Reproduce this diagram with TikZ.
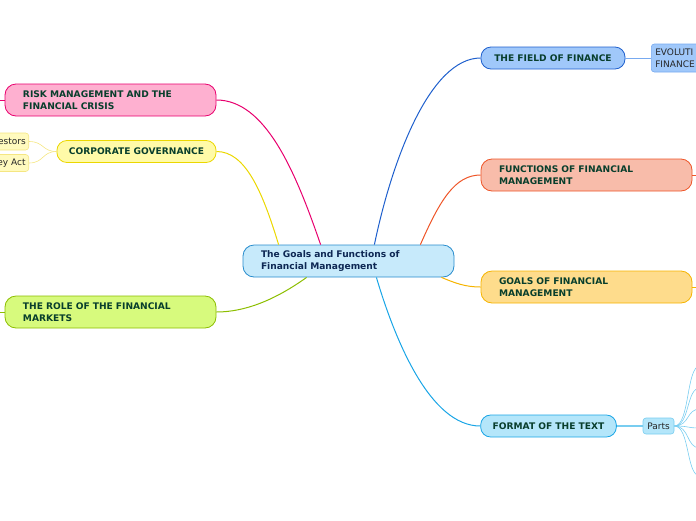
\documentclass[tikz,border=0pt]{standalone}
\usepackage{fontspec}
\setmainfont{DejaVu Sans}
\usepackage{tikz}
\usetikzlibrary{positioning}
\definecolor{centerfill}{RGB}{199,234,251}
\definecolor{centerline}{RGB}{40,140,205}
\definecolor{centertext}{RGB}{14,40,84}
\definecolor{topictext}{RGB}{8,62,44}
\definecolor{fieldfill}{RGB}{160,200,250}
\definecolor{fieldline}{RGB}{30,95,205}
\definecolor{funcfill}{RGB}{248,188,170}
\definecolor{funcline}{RGB}{238,85,40}
\definecolor{goalfill}{RGB}{254,220,140}
\definecolor{goalline}{RGB}{246,180,0}
\definecolor{formatfill}{RGB}{180,230,250}
\definecolor{formatline}{RGB}{25,165,230}
\definecolor{riskfill}{RGB}{254,176,208}
\definecolor{riskline}{RGB}{232,0,110}
\definecolor{corpfill}{RGB}{255,250,168}
\definecolor{corpline}{RGB}{235,215,0}
\definecolor{rolefill}{RGB}{215,250,125}
\definecolor{roleline}{RGB}{140,190,0}
\definecolor{leafyellow}{RGB}{255,250,190}
\definecolor{leafyline}{RGB}{245,230,130}
\definecolor{leafblue}{RGB}{120,205,240}
\definecolor{evolline}{RGB}{120,170,240}
\newcommand\topicfont{\bfseries\fontsize{9.1}{11.5}\selectfont}
\newcommand\leaffont{\fontsize{9}{11.5}\selectfont}

\begin{document}
\begin{tikzpicture}[x=1pt, y=-1pt,
ctr/.style={draw=centerline, fill=centerfill, line width=0.8pt, rounded corners=11pt,
minimum height=32pt, text width=175pt, inner xsep=18pt, align=left,
text=centertext, font=\topicfont},
branch/.style={draw, line width=0.8pt, rounded corners=10pt, minimum height=22pt,
inner xsep=12pt, text=topictext, font=\topicfont},
wide/.style={branch, rounded corners=11pt, minimum height=32pt, text width=175pt,
inner xsep=18pt, align=left},
leaf/.style={draw, line width=0.6pt, rounded corners=3pt, text=black!85, font=\leaffont},
link/.style={line width=1pt}
]
\clip (0,0) rectangle (696,520);

\node[ctr] (root) at (348.5,261) {The Goals and Functions of\\Financial Management};

\node[branch, draw=fieldline, fill=fieldfill, minimum width=144pt] (field) at (553,58)
{THE FIELD OF FINANCE};
\node[wide, draw=funcline, fill=funcfill] (func) at (586.5,175)
{FUNCTIONS OF FINANCIAL\\MANAGEMENT};
\node[wide, draw=goalline, fill=goalfill] (goals) at (586.5,287)
{GOALS OF FINANCIAL\\MANAGEMENT};
\node[branch, draw=formatline, fill=formatfill, minimum width=135pt] (format) at (548.5,426)
{FORMAT OF THE TEXT};
\node[wide, draw=riskline, fill=riskfill] (risk) at (110.5,100)
{RISK MANAGEMENT AND THE\\FINANCIAL CRISIS};
\node[branch, draw=corpline, fill=corpfill, minimum width=159pt] (corp) at (136.5,151.5)
{CORPORATE GOVERNANCE};
\node[wide, draw=roleline, fill=rolefill] (role) at (110.5,312)
{THE ROLE OF THE FINANCIAL\\MARKETS};

\node[leaf, draw=evolline, fill=fieldfill, anchor=west, minimum height=28pt,
text width=70pt, inner xsep=4pt, align=left] (evol) at (651,58) {EVOLUTI\\FINANCE};
\node[leaf, draw=leafblue, fill=formatfill, minimum width=31pt, minimum height=16pt,
inner xsep=3pt] (parts) at (658.5,426) {Parts};
\node[leaf, draw=leafyline, fill=leafyellow, anchor=east, minimum height=17pt,
text width=40pt, inner xsep=3pt, align=right] (invest) at (29,141.5) {estors};
\node[leaf, draw=leafyline, fill=leafyellow, anchor=east, minimum height=17pt,
text width=40pt, inner xsep=3pt, align=right] (sox) at (29,163) {ey Act};

\coordinate (funcout) at (700,175);
\coordinate (goalout) at (700,287);
\coordinate (riskout) at (-4,100);
\coordinate (roleout) at (-4,312);
\coordinate (p1) at (700,366);
\coordinate (p2) at (700,388);
\coordinate (p3) at (700,409);
\coordinate (p4) at (700,428);
\coordinate (p5) at (700,448);
\coordinate (p6) at (700,476);

\draw[link, fieldline] (root.north east) ++(-80,0) .. controls (392,160) and (430,58) .. (field.west);
\draw[link, funcline] (root.north east) ++(-34,0) .. controls (440,200) and (455,175) .. (func.west);
\draw[link, goalline] (root.south east) ++(-13,0) .. controls (455,283) and (465,287) .. (goals.west);
\draw[link, formatline] (root.south east) ++(-78,0) .. controls (395,340) and (430,426) .. (format.west);
\draw[link, riskline] (root.north west) ++(78,0) .. controls (295,170) and (265,100) .. (risk.east);
\draw[link, corpline] (root.north west) ++(36,0) .. controls (262,190) and (245,151.5) .. (corp.east);
\draw[link, roleline] (root.south west) ++(64,0) .. controls (275,300) and (245,312) .. (role.east);

\draw[line width=0.8pt, evolline] (field.east) -- (evol.west);
\draw[link, funcline] (func.east) -- (funcout);
\draw[link, goalline] (goals.east) -- (goalout);
\draw[link, riskline] (risk.west) -- (riskout);
\draw[link, roleline] (role.west) -- (roleout);
\draw[line width=1.5pt, leafblue] (format.east) -- (parts.west);
\draw[line width=0.6pt, leafyline] (corp.west) .. controls (42,151.5) and (44,141.5) .. (invest.east);
\draw[line width=0.6pt, leafyline] (corp.west) .. controls (42,151.5) and (44,163) .. (sox.east);

\draw[line width=0.6pt, leafblue] (parts.east) .. controls (690,426) and (686,366) .. (p1);
\draw[line width=0.6pt, leafblue] (parts.east) .. controls (690,426) and (686,388) .. (p2);
\draw[line width=0.6pt, leafblue] (parts.east) .. controls (690,426) and (686,409) .. (p3);
\draw[line width=0.6pt, leafblue] (parts.east) .. controls (690,426) and (686,428) .. (p4);
\draw[line width=0.6pt, leafblue] (parts.east) .. controls (690,426) and (686,448) .. (p5);
\draw[line width=0.6pt, leafblue] (parts.east) .. controls (690,426) and (686,476) .. (p6);
\end{tikzpicture}
\end{document}
